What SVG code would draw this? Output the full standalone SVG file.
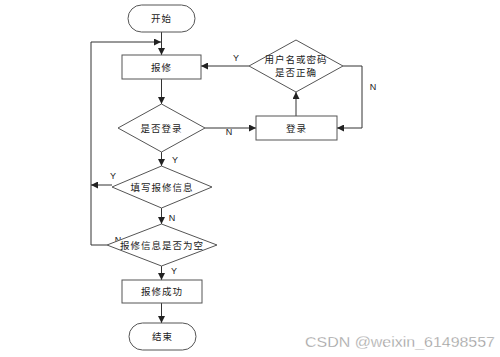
<svg xmlns="http://www.w3.org/2000/svg" width="500" height="357" viewBox="0 0 500 357">
<style>
.s{fill:#fff;stroke:#555;stroke-width:1}
.c{fill:none;stroke:#333;stroke-width:1}
.t{font-family:"Noto Sans CJK SC","Liberation Sans",sans-serif;font-size:9.5px;fill:#222;text-anchor:middle;letter-spacing:1px}
.l{font-family:"Liberation Sans",Arial,sans-serif;font-size:9px;fill:#222;text-anchor:middle}
.w{font-family:"Liberation Sans",Arial,sans-serif;font-size:15px;fill:#999;stroke:#fff;stroke-width:0.3}
</style>
<defs>
<marker id="a" viewBox="0 0 10 10" refX="10" refY="5" markerWidth="7" markerHeight="7" markerUnits="userSpaceOnUse" orient="auto">
<path d="M0,0L10,5L0,10z" fill="#222"/>
</marker>
</defs>
<rect width="500" height="357" fill="#fff"/>
<g id="connectors">
<path class="c" d="M161.5,32V55" marker-end="url(#a)"/>
<path class="c" d="M91,245V42H161" marker-end="url(#a)"/>
<path class="c" d="M161.5,79V104" marker-end="url(#a)"/>
<path class="c" d="M205,128H256" marker-end="url(#a)"/>
<path class="c" d="M296,116V92" marker-end="url(#a)"/>
<path class="c" d="M249,66H201" marker-end="url(#a)"/>
<path class="c" d="M343,66H362V128H337" marker-end="url(#a)"/>
<path class="c" d="M161.5,152V166" marker-end="url(#a)"/>
<path class="c" d="M112,185H91" marker-end="url(#a)"/>
<path class="c" d="M161.5,208V224" marker-end="url(#a)"/>
<path class="c" d="M107,245H91"/>
<path class="c" d="M161.5,266V280" marker-end="url(#a)"/>
<path class="c" d="M161.5,303V323" marker-end="url(#a)"/>
<text class="l" x="236" y="61">Y</text>
<text class="l" x="373" y="90">N</text>
<text class="l" x="229" y="135">N</text>
<text class="l" x="175" y="163">Y</text>
<text class="l" x="113" y="179">Y</text>
<text class="l" x="172" y="221">N</text>
<text class="l" x="118" y="243">N</text>
<text class="l" x="174" y="274">Y</text>
</g>
<g id="start">
<rect class="s" x="128" y="5" width="67" height="27" rx="13.5"/>
<text class="t" x="161.5" y="22">开始</text>
</g>
<g id="repair">
<rect class="s" x="122" y="55" width="79" height="24"/>
<text class="t" x="161.5" y="71">报修</text>
</g>
<g id="loggedin">
<path class="s" d="M161.5,104L205,128L161.5,152L118,128Z"/>
<text class="t" x="161.5" y="131.5">是否登录</text>
</g>
<g id="check">
<path class="s" d="M296,40L343,66L296,92L249,66Z"/>
<text class="t" x="296" y="63">用户名或密码</text>
<text class="t" x="296" y="76">是否正确</text>
</g>
<g id="login">
<rect class="s" x="256" y="116" width="81" height="24"/>
<text class="t" x="296.5" y="132">登录</text>
</g>
<g id="fill">
<path class="s" d="M161.5,166L212,187L161.5,208L112,187Z"/>
<text class="t" x="162" y="190.5">填写报修信息</text>
</g>
<g id="empty">
<path class="s" d="M161.5,224L217,245L161.5,266L107,245Z"/>
<text class="t" x="162" y="248.5">报修信息是否为空</text>
</g>
<g id="success">
<rect class="s" x="122" y="280" width="80" height="23"/>
<text class="t" x="162" y="295">报修成功</text>
</g>
<g id="end">
<rect class="s" x="129" y="323" width="67" height="27" rx="13.5"/>
<text class="t" x="162.5" y="340">结束</text>
</g>
<text class="w" x="305" y="347" textLength="190" lengthAdjust="spacingAndGlyphs">CSDN @weixin_61498557</text>
</svg>
